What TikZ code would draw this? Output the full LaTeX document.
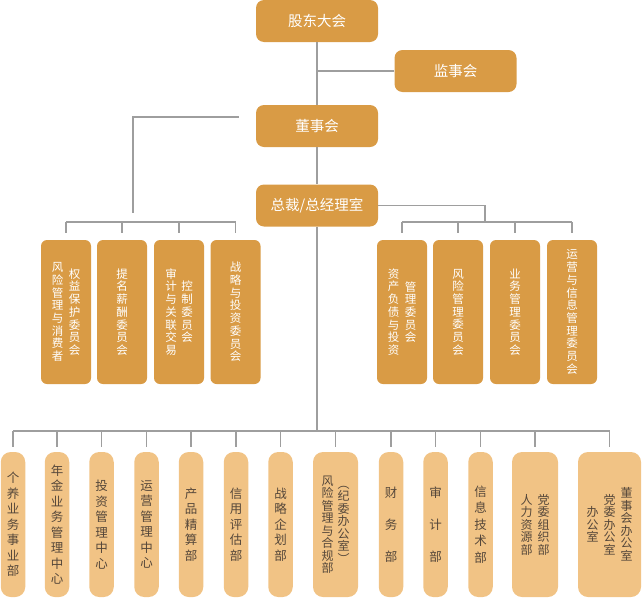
\documentclass[tikz,border=0pt]{standalone}
\usepackage{fontspec}
\setmainfont{Noto Sans CJK SC}
\usepackage{tikz}
\usetikzlibrary{positioning}
\usepackage{xcolor}

\definecolor{gold}{HTML}{D99B45}
\definecolor{sand}{HTML}{F1C385}
\definecolor{inkbrown}{HTML}{55473A}
\definecolor{wiregray}{HTML}{9E9E9E}

% vertical column of characters
\newdimen\colpitch
\def\vcolloop#1{\ifx\relax#1\else\hbox to 1em{\hss#1\hss}\expandafter\vcolloop\fi}
\newcommand\vcol[2][12.7pt]{$\vcenter{\colpitch=#1\relax\baselineskip=\colpitch\relax\lineskiplimit=-20pt\relax\lineskip=0pt\relax\vcolloop#2\relax}$}

\begin{document}
\begin{tikzpicture}[x=1pt,y=-1pt,
  topbox/.style={fill=gold, rounded corners=8pt, minimum width=122pt, minimum height=42pt, inner sep=0pt, text=white, font=\fontsize{14.5}{16}\selectfont},
  cmte/.style={fill=gold, rounded corners=6pt, minimum width=50pt, minimum height=144pt, inner sep=0pt, text=white, font=\fontsize{11.5}{12}\selectfont},
  dept/.style={fill=sand, rounded corners=10pt, minimum width=24.5pt, minimum height=145pt, inner sep=0pt, text=inkbrown, font=\fontsize{12.5}{13}\selectfont},
  wide/.style={font=\fontsize{12}{13}\selectfont},
  wire/.style={draw=wiregray, line width=1.1pt}]
\useasboundingbox (0,0) rectangle (642,600);

\node [topbox] (gdh) at (317,21) {股东大会};
\node [topbox] (jsh) at (455.5,71) {监事会};
\node [topbox] (dsh) at (317,126) {董事会};
\node [topbox] (zc) at (317,205.5) {总裁/总经理室};

% committees
\node [cmte] (c1) at (66,312) {\vcol{风险管理与消费者}\hspace{5.5pt}\vcol{权益保护委员会}};
\node [cmte] (c2) at (122,312) {\vcol{提名薪酬委员会}};
\node [cmte] (c3) at (179,312) {\vcol{审计与关联交易}\hspace{4.5pt}\vcol{控制委员会}};
\node [cmte] (c4) at (235.5,312) {\vcol{战略与投资委员会}};
\node [cmte] (r1) at (402,312) {\vcol{资产负债与投资}\hspace{5.5pt}\vcol{管理委员会}};
\node [cmte] (r2) at (458,312) {\vcol{风险管理委员会}};
\node [cmte] (r3) at (515,312) {\vcol{业务管理委员会}};
\node [cmte] (r4) at (572,312) {\vcol{运营与信息管理委员会}};

% departments
\node [dept] (d1) at (13,524.5) {\vcol[15.5pt]{个养业务事业部}};
\node [dept] (d2) at (57,524.5) {\vcol[15.5pt]{年金业务管理中心}};
\node [dept] (d3) at (101.5,524.5) {\vcol[15.5pt]{投资管理中心}};
\node [dept] (d4) at (146.5,524.5) {\vcol[15.5pt]{运营管理中心}};
\node [dept] (d5) at (191,524.5) {\vcol[15.5pt]{产品精算部}};
\node [dept] (d6) at (236,524.5) {\vcol[15.5pt]{信用评估部}};
\node [dept] (d7) at (280.5,524.5) {\vcol[15.5pt]{战略企划部}};
\node [dept, wide, minimum width=45pt] (d8) at (335.5,524.5) {\vcol[12.5pt]{风险管理与合规部}\hspace{4pt}\vcol[12.5pt]{︵纪委办公室︶}};
\node [dept] (d9) at (391,524.5) {\vcol[32pt]{财务部}};
\node [dept] (d10) at (435.5,524.5) {\vcol[32pt]{审计部}};
\node [dept] (d11) at (480.5,524.5) {\vcol[16.5pt]{信息技术部}};
\node [dept, wide, minimum width=46pt] (d12) at (535,524.5) {\vcol[12.5pt]{人力资源部}\hspace{5pt}\vcol[12.5pt]{党委组织部}};
\node [dept, wide, minimum width=63pt] (d13) at (609.5,524.5) {\vcol[12.5pt]{办公室}\hspace{5pt}\vcol[12.5pt]{党委办公室}\hspace{5pt}\vcol[12.5pt]{董事会办公室}};

\coordinate (lefttap) at (133,222);
\coordinate (righttap) at (485,222);
\coordinate (lowbus) at (317,431);

\draw [wire] (gdh) -- (dsh);
\draw [wire] (jsh.west) -- (jsh.west -| gdh.south);
\draw [wire] (dsh) -- (zc);
\draw [wire] (zc) -- (lowbus);

% board committees
\draw [wire, shorten <=17pt, shorten >=9pt] ([yshift=9pt]dsh.west) -| (lefttap);
\draw [wire] (c1.north |- lefttap) -- (c4.north |- lefttap);
\foreach \c in {c1,c2,c3,c4}
  \draw [wire, shorten >=7pt] (\c.north |- lefttap) -- (\c.north);

% management committees
\draw [wire] (zc.east) -| (righttap);
\draw [wire] (r1.north |- righttap) -- (r4.north |- righttap);
\foreach \r in {r1,r2,r3,r4}
  \draw [wire, shorten >=7pt] (\r.north |- righttap) -- (\r.north);

% departments
\draw [wire] (d1.north |- lowbus) -- (d13.north |- lowbus);
\foreach \d in {d1,d2,d3,d4,d5,d6,d7,d8,d9,d10,d11,d12,d13}
  \draw [wire, shorten >=5pt] (\d.north |- lowbus) -- (\d.north);

\end{tikzpicture}
\end{document}
